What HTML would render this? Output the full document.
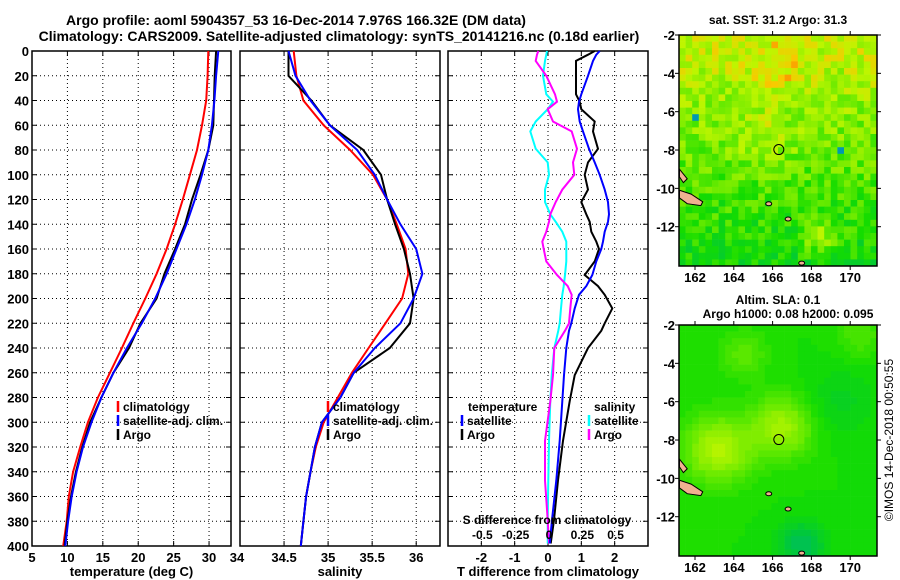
<!DOCTYPE html>
<html><head><meta charset="utf-8"><style>
html,body{margin:0;padding:0;background:#fff;}
svg{display:block;font-family:"Liberation Sans",Arial,sans-serif;font-weight:bold;}
</style></head><body>
<svg id="fig" width="900" height="580" viewBox="0 0 900 580" xmlns="http://www.w3.org/2000/svg">
<rect width="900" height="580" fill="#fff"/>
<text x="296" y="25" font-size="14" text-anchor="middle">Argo profile: aoml 5904357_53 16-Dec-2014 7.976S 166.32E (DM data)</text>
<text x="339" y="41" font-size="14" text-anchor="middle">Climatology: CARS2009. Satellite-adjusted climatology: synTS_20141216.nc (0.18d earlier)</text>
<g id="panels"></g>
<g id="maps"></g>
<text transform="translate(893,440) rotate(-90)" font-size="12" font-weight="normal" text-anchor="middle">©IMOS 14-Dec-2018 00:50:55</text>
</svg>
<script>
// ---- Data ----
const depths = [0,20,40,60,80,100,120,140,160,180,200,220,240,260,280,300,320,340,360,380,400];
const tempClim = [29.9,29.8,29.6,29.0,28.3,27.3,26.3,25.2,24.0,22.6,21.0,19.3,17.7,16.0,14.3,12.9,11.8,10.8,10.2,9.9,9.4];
const tempSat  = [31.3,31.0,30.75,30.4,29.9,29.0,28.0,26.8,25.4,24.0,22.4,20.5,18.4,16.5,14.8,13.4,12.2,11.3,10.6,10.1,9.7];
const tempArgo = [31.0,30.8,30.7,30.6,29.9,28.8,27.6,26.6,25.2,23.7,22.6,20.3,18.7,16.5,14.8,13.2,12.1,11.2,10.5,10.0,9.6];
const salClim = [34.61,34.64,34.72,34.95,35.25,35.51,35.67,35.78,35.88,35.91,35.84,35.65,35.46,35.27,35.11,34.95,34.86,34.80,34.75,34.72,34.69];
const salSat  = [34.55,34.63,34.80,35.02,35.33,35.53,35.67,35.82,36.00,36.07,35.97,35.82,35.53,35.29,35.14,34.93,34.85,34.80,34.75,34.72,34.69];
const salArgo = [34.55,34.55,34.81,35.02,35.40,35.60,35.67,35.76,35.86,35.93,35.97,35.93,35.70,35.29,35.14,34.93,34.85,34.80,34.75,34.72,34.69];
const diffDepths = [0,3,8,20,35,41,47,57,65,79,90,100,112,122,132,138,146,154,160,170,181,190,197,208,220,226,240,262,283,315,347,379,398];
const tDiffSat  = [1.55,1.45,1.35,1.2,1.0,0.93,0.9,0.95,1.05,1.23,1.4,1.55,1.7,1.8,1.83,1.8,1.7,1.65,1.6,1.45,1.33,1.15,0.93,0.8,0.7,0.63,0.55,0.48,0.43,0.35,0.25,0.12,0.05];
const tDiffArgo = [1.4,1.2,0.84,0.84,0.84,0.95,1.0,1.4,1.35,1.5,1.2,1.1,1.2,1.0,1.15,1.25,1.3,1.45,1.53,1.4,1.1,1.5,1.7,1.93,1.7,1.6,1.2,0.8,0.65,0.45,0.3,0.18,0.08];
const sDiffSat  = [-0.015,-0.02,-0.03,-0.045,-0.02,0.03,-0.01,-0.1,-0.14,-0.1,-0.01,0.0,-0.03,-0.03,0.01,0.05,0.1,0.13,0.13,0.13,0.12,0.11,0.1,0.09,0.08,0.07,0.04,0.02,0.01,0.0,-0.005,-0.01,-0.01];
const sDiffArgo = [-0.08,-0.09,-0.1,-0.02,0.045,0.06,-0.01,0.03,0.17,0.21,0.18,0.19,0.1,0.05,0.01,0.0,-0.02,-0.05,-0.04,-0.02,0.06,0.14,0.17,0.16,0.15,0.12,0.04,0.03,0.01,-0.03,-0.03,-0.01,0.0];
const depthTicks = [0,20,40,60,80,100,120,140,160,180,200,220,240,260,280,300,320,340,360,380,400];
const tempTicks = [5,10,15,20,25,30];
const salTicks = [34,34.5,35,35.5,36];
const tDiffTicks = [-2,-1,0,1,2];
const sDiffTicks = [-0.5,-0.25,0,0.25,0.5];
const sDiffTickLabels = ["-0.5","-0.25","0","0.25","0.5"];
const lonTicks = [162,164,166,168,170];
const latTicks = [-2,-4,-6,-8,-10,-12];

const NS="http://www.w3.org/2000/svg";
function mk(tag,attrs,parent){const e=document.createElementNS(NS,tag);for(const k in attrs)e.setAttribute(k,attrs[k]);if(parent)parent.appendChild(e);return e;}
const panelsG=document.getElementById('panels');
const Y0=51,Y1=546;
function yScale(d){return Y0+(d/400)*(Y1-Y0);}

function panel(name,x0,x1,xmin,xmax,ticks,labels,xlabel,showDepthLabels){
  const g=mk('g',{},panelsG);
  
  
  const xs=v=>x0+(v-xmin)/(xmax-xmin)*(x1-x0);
  depthTicks.forEach(d=>{
    const y=yScale(d);
    if(d>0&&d<400){const l=mk('line',{x1:x0,x2:x1,y1:y,y2:y,stroke:'#000','stroke-width':1,'stroke-dasharray':'1,3'},g);
    }
    mk('line',{x1:x0,x2:x0+5,y1:y,y2:y,stroke:'#000'},g);
    mk('line',{x1:x1-5,x2:x1,y1:y,y2:y,stroke:'#000'},g);
    if(showDepthLabels){const t=mk('text',{x:x0-3,y:y+5,'font-size':13,'text-anchor':'end'},g);t.textContent=d;
    }
  });
  ticks.forEach((v,i)=>{
    const x=xs(v);
    if(x>x0+1&&x<x1-1){mk('line',{x1:x,x2:x,y1:Y0,y2:Y1,stroke:'#000','stroke-dasharray':'1,3'},g);}
    mk('line',{x1:x,x2:x,y1:Y1-5,y2:Y1,stroke:'#000'},g);
    mk('line',{x1:x,x2:x,y1:Y0,y2:Y0+5,stroke:'#000'},g);
    if(labels){const t=mk('text',{x:x,y:Y1+16,'font-size':13,'text-anchor':'middle'},g);t.textContent=labels[i];
    }
  });
  mk('rect',{x:x0,y:Y0,width:x1-x0,height:Y1-Y0,fill:'none',stroke:'#000','stroke-width':1.5},g);
  if(xlabel){const t=mk('text',{x:(x0+x1)/2,y:576,'font-size':13,'text-anchor':'middle'},g);t.textContent=xlabel;
  }
  return {g,xs};
}
function line(p,xsF,vals,ds,color,name,w){
  const pts=vals.map((v,i)=>xsF(v).toFixed(1)+','+yScale(ds[i]).toFixed(1)).join(' ');
  const e=mk('polyline',{points:pts,fill:'none',stroke:color,'stroke-width':w||2},p.g);
  
  
}
function legend(g,x,y,items){
  items.forEach((it,i)=>{
    mk('line',{x1:x,x2:x,y1:y+i*14-10,y2:y+i*14+1,stroke:it[1],'stroke-width':2.5},g);
    const t=mk('text',{x:x+5,y:y+i*14,'font-size':12},g);t.textContent=it[0];
    
  });
}
// Temperature panel
const p1=panel('temperature',32,231,5,33.1,tempTicks,tempTicks,'temperature (deg C)',true);
const t34=mk('text',{x:237,y:Y1+16,'font-size':13,'text-anchor':'middle'},panelsG);t34.textContent='34';
line(p1,p1.xs,tempClim,depths,'#f00','temp-climatology-line');
line(p1,p1.xs,tempArgo,depths,'#000','temp-argo-line');
line(p1,p1.xs,tempSat,depths,'#00f','temp-satellite-line');
legend(p1.g,118,411,[['climatology','#f00'],['satellite-adj. clim.','#00f'],['Argo','#000']]);
// Salinity panel
const p2=panel('salinity',240,440,34,36.27,salTicks,['','34.5','35','35.5','36'],'salinity',false);
line(p2,p2.xs,salClim,depths,'#f00','sal-climatology-line');
line(p2,p2.xs,salArgo,depths,'#000','sal-argo-line');
line(p2,p2.xs,salSat,depths,'#00f','sal-satellite-line');
legend(p2.g,328,411,[['climatology','#f00'],['satellite-adj. clim.','#00f'],['Argo','#000']]);
// Difference panel
const p3=panel('difference',448,648,-3,3,tDiffTicks,tDiffTicks,'T difference from climatology',false);
const sxs=v=>549+v*133.3;
line(p3,sxs,sDiffSat,diffDepths,'#0ff','s-diff-satellite-line');
line(p3,sxs,sDiffArgo,diffDepths,'#f0f','s-diff-argo-line');
line(p3,p3.xs,tDiffArgo,diffDepths,'#000','t-diff-argo-line');
line(p3,p3.xs,tDiffSat,diffDepths,'#00f','t-diff-satellite-line');
{const t=mk('text',{x:468,y:411,'font-size':12},p3.g);t.textContent='temperature';
 
 const t2=mk('text',{x:594,y:411,'font-size':12},p3.g);t2.textContent='salinity';
 }
legend(p3.g,462,425,[['satellite','#00f'],['Argo','#000']]);
legend(p3.g,589,425,[['satellite','#0ff'],['Argo','#f0f']]);
{const t=mk('text',{x:547,y:524,'font-size':12,'text-anchor':'middle'},p3.g);t.textContent='S difference from climatology';
 }
sDiffTicks.forEach((v,i)=>{const t=mk('text',{x:sxs(v),y:539,'font-size':12,'text-anchor':'middle'},p3.g);t.textContent=sDiffTickLabels[i];
 });

// ---- Maps ----
const mapsG=document.getElementById('maps');
function hash(i,j,s){let h=(i*374761393+j*668265263+s*982451653)|0;h=(h^(h>>>13))*1274126177|0;return ((h^(h>>>16))>>>0)/4294967296;}
const stops=[[0,[0,60,220]],[0.12,[0,170,170]],[0.3,[0,200,60]],[0.45,[20,220,0]],[0.6,[110,235,0]],[0.75,[190,245,0]],[0.88,[250,200,0]],[1,[255,0,0]]];
function col(v){v=Math.max(0,Math.min(1,v));for(let k=1;k<stops.length;k++){if(v<=stops[k][0]){const a=stops[k-1],b=stops[k],t=(v-a[0])/(b[0]-a[0]);return 'rgb('+a[1].map((c,m)=>Math.round(c+(b[1][m]-c)*t)).join(',')+')';}}return 'rgb(255,0,0)';}
function drawMap(name,y0,y1,title,title2,fieldFn,cell,seed){
  const x0=679,x1=877;
  const g=mk('g',{},mapsG);
  
  
  const lonS=lon=>695+(lon-162)*19.4;
  const latS=lat=>y0+(-2-lat)*((y1-y0)/12.05);
  for(let yy=y0,j=0;yy<y1;yy+=cell,j++)for(let xx=x0,i=0;xx<x1;xx+=cell,i++){
    const lon=162+(xx+cell/2-695)/19.4, lat=-2-(yy+cell/2-y0)/((y1-y0)/12.05);
    mk('rect',{x:xx,y:yy,width:Math.min(cell,x1-xx)+0.3,height:Math.min(cell,y1-yy)+0.3,fill:col(fieldFn(lon,lat,i,j,seed))},g);
  }
  mk('path',{d:`M${lonS(161.2)},${latS(-10.1)} L${lonS(161.8)},${latS(-10.3)} L${lonS(162.4)},${latS(-10.7)} L${lonS(162.3)},${latS(-10.9)} L${lonS(161.6)},${latS(-10.8)} L${lonS(161.2)},${latS(-10.5)} Z`,fill:'#f0b090',stroke:'#000','stroke-width':1},g);
  mk('path',{d:`M${lonS(161.2)},${latS(-9.0)} L${lonS(161.6)},${latS(-9.5)} L${lonS(161.4)},${latS(-9.7)} L${lonS(161.2)},${latS(-9.4)} Z`,fill:'#f0b090',stroke:'#000','stroke-width':1},g);
  [[165.8,-10.8],[166.8,-11.6],[167.5,-13.9]].forEach(p=>mk('ellipse',{cx:lonS(p[0]),cy:latS(p[1]),rx:3,ry:2,fill:'#f0b090',stroke:'#000'},g));
  const c=mk('circle',{cx:lonS(166.32),cy:latS(-7.976),r:5,fill:'none',stroke:'#000','stroke-width':1},g);
  
  mk('rect',{x:x0,y:y0,width:x1-x0,height:y1-y0,fill:'none',stroke:'#000','stroke-width':1.5},g);
  lonTicks.forEach(l=>{const x=lonS(l);mk('line',{x1:x,x2:x,y1:y0-4,y2:y0,stroke:'#000'},g);mk('line',{x1:x,x2:x,y1:y1,y2:y1+4,stroke:'#000'},g);
    const t=mk('text',{x:x,y:y1+16,'font-size':13,'text-anchor':'middle'},g);t.textContent=l;
    });
  latTicks.forEach(l=>{const y=latS(l);mk('line',{x1:x0-4,x2:x0,y1:y,y2:y,stroke:'#000'},g);mk('line',{x1:x1,x2:x1+4,y1:y,y2:y,stroke:'#000'},g);
    const t=mk('text',{x:x0-4,y:y+5,'font-size':13,'text-anchor':'end'},g);t.textContent=l;
    });
  const t=mk('text',{x:(x0+x1)/2,y:title2?y0-21:y0-11,'font-size':12,'text-anchor':'middle'},g);t.textContent=title;
  
  if(title2){const t2=mk('text',{x:(x0+x1)/2+10,y:y0-7,'font-size':12,'text-anchor':'middle'},g);t2.textContent=title2;
  }
}
function sstField(lon,lat,i,j,s){
  let v=0.6+(lat+8)*0.03;
  v+=0.12*Math.exp(-((lon-166.2)**2+(lat+4)**2)/1.5)+0.1*Math.exp(-((lon-165.5)**2+(lat+7.5)**2)/2);
  v+=0.25*Math.exp(-((lon-168.4)**2+(lat+12.6)**2)/0.6);
  v+=(hash(i,j,s)-0.5)*0.22;
  if(hash(i,j,s+7)>0.994)v=0.1;
  return v;
}
function slaField(lon,lat){
  let v=0.45;
  v+=0.28*Math.exp(-((lon-163.2)**2+(lat+8.5)**2)/3)+0.25*Math.exp(-((lon-166.5)**2+(lat+7.3)**2)/2.5);
  v+=0.12*Math.exp(-((lon-164.5)**2+(lat+3.5)**2)/1.5)+0.1*Math.exp(-((lon-170.5)**2+(lat+2.5)**2)/1.5);
  v-=0.2*Math.exp(-((lon-167.5)**2+(lat+13.5)**2)/1.5)+0.08*Math.exp(-((lon-169.5)**2+(lat+6)**2)/3);
  return Math.round(v*30)/30;
}
drawMap('sst-map',35,266,'sat. SST: 31.2 Argo: 31.3',null,sstField,6.6,3);
drawMap('sla-map',325,556,'Altim. SLA: 0.1','Argo h1000: 0.08 h2000: 0.095',slaField,6.6,5);
</script>
</body></html>
